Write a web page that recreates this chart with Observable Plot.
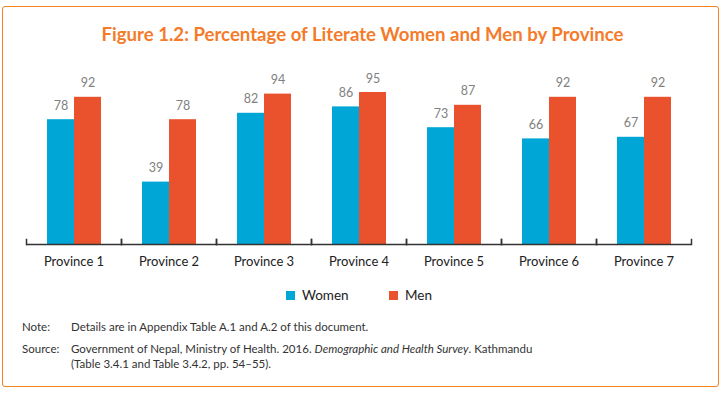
<!DOCTYPE html>
<html>
<head>
<meta charset="utf-8">
<script src="https://cdn.jsdelivr.net/npm/d3@7"></script>
<script src="https://cdn.jsdelivr.net/npm/@observablehq/plot@0.6"></script>
<style>
  html, body { margin: 0; padding: 0; background: #fff; }
  body { width: 723px; height: 395px; position: relative; overflow: hidden; font-family: Lato, "Open Sans", sans-serif; }
  #box { position: absolute; left: 2px; top: 6px; width: 717px; height: 381px; border: 1.5px solid #F58220; border-radius: 3px; box-sizing: border-box; }
  #title { position: absolute; left: 0; width: 725px; top: 23px; text-align: center; color: #F47B2A; font-weight: bold; font-size: 18.6px; }
  #chart { position: absolute; left: 0; top: 70px; }
  .leg { position: absolute; top: 287px; font-size: 13.5px; color: #222; display: flex; align-items: center; }
  .sw { width: 9px; height: 9px; display: inline-block; margin-right: 7px; }
  .note { position: absolute; left: 22px; font-size: 11.5px; color: #333; line-height: 15px; }
  .note .lab { position: absolute; left: 0; }
  .note .txt { position: absolute; left: 49px; white-space: nowrap; }
</style>
</head>
<body>
<div id="box"></div>
<div id="title">Figure 1.2: Percentage of Literate Women and Men by Province</div>
<div id="chart"></div>
<div id="legend"></div>
<div class="note" style="top:319px"><span class="lab">Note:</span><span class="txt">Details are in Appendix Table A.1 and A.2 of this document.</span></div>
<div class="note" style="top:341px"><span class="lab">Source:</span><span class="txt">Government of Nepal, Ministry of Health. 2016. <i>Demographic and Health Survey</i>. Kathmandu<br>(Table 3.4.1 and Table 3.4.2, pp. 54–55).</span></div>
<script>
const provinces = ["Province 1", "Province 2", "Province 3", "Province 4", "Province 5", "Province 6", "Province 7"];
const women = [78, 39, 82, 86, 73, 66, 67];
const men = [92, 78, 94, 95, 87, 92, 92];
const series = ["Women", "Men"];
const colors = ["#00A6D6", "#E9522C"];

const data = provinces.flatMap((p, i) => [
  {province: p, series: "Women", value: women[i]},
  {province: p, series: "Men", value: men[i]}
]);

const plot = Plot.plot({
  width: 723,
  height: 210,
  marginLeft: 26,
  marginRight: 32,
  marginTop: 14,
  marginBottom: 36,
  style: {fontFamily: "Lato, 'Open Sans', sans-serif", fontSize: "13px", color: "#222", background: "transparent"},
  fx: {domain: provinces, padding: 0, label: null, axis: "bottom", tickSize: 0, tickPadding: 12},
  x: {domain: series, paddingInner: 0, paddingOuter: 0.727, axis: null},
  y: {domain: [0, 100], axis: null},
  color: {domain: series, range: colors},
  marks: [
    Plot.barY(data, {fx: "province", x: "series", y: "value", fill: "series"}),
    Plot.text(data, {fx: "province", x: "series", y: "value", text: d => String(d.value), dy: -10, lineAnchor: "bottom", fill: "#808080", fontSize: 12.5}),
    Plot.ruleY([0], {stroke: "#333", strokeWidth: 1.5}),
    Plot.frame({anchor: "left", insetTop: 155, stroke: "#333", strokeWidth: 1.5}),
    Plot.frame({anchor: "right", insetTop: 155, stroke: "#333", strokeWidth: 1.5})
  ]
});
document.getElementById("chart").appendChild(plot);

const legend = document.getElementById("legend");
const legX = [286, 389];
series.forEach((s, i) => {
  const d = document.createElement("div");
  d.className = "leg";
  d.style.left = legX[i] + "px";
  d.innerHTML = `<span class="sw" style="background:${colors[i]}"></span>${s}`;
  legend.appendChild(d);
});
</script>
</body>
</html>
